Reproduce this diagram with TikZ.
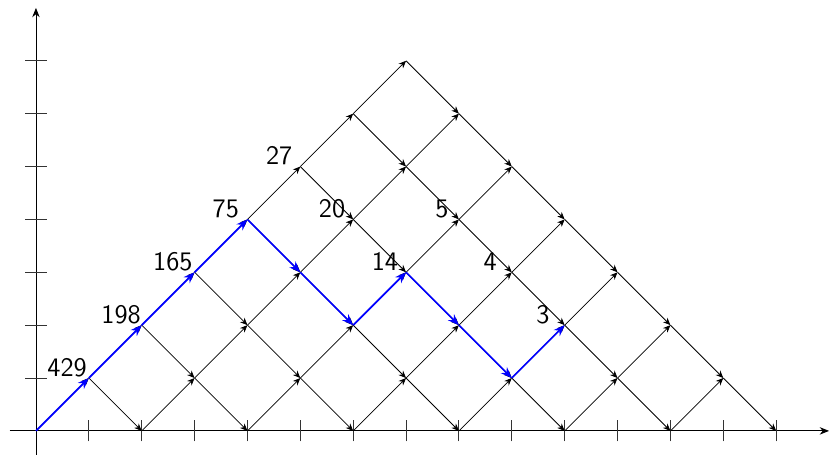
\documentclass[tikz,border=0pt]{standalone}
\usetikzlibrary{arrows.meta}

\begin{document}
\begin{tikzpicture}[
  line join=round,
  axis/.style={draw=black,line width=0.45pt,-{Stealth[length=5pt,width=4pt]}},
  tick/.style={draw=black!80,line width=0.45pt},
  lattice/.style={draw=black,line width=0.4pt,-{Stealth[length=4pt,width=3.4pt]}},
  pathedge/.style={draw=blue,line width=0.9pt,-{Stealth[length=6pt,width=4.6pt]}},
  numlabel/.style={font=\sffamily\Large,inner sep=0pt}
]
  \useasboundingbox (-0.68,-0.47) rectangle (15.0,8.15);

  % Lattice points of the triangle.
  \foreach \i in {0,...,14} {
    \foreach \j in {0,...,7} {
      \coordinate (p-\i-\j) at (\i,\j);
    }
  }

  % Axes with unit ticks.
  \coordinate (xstart) at (-0.5,0);
  \coordinate (xend) at (15,0);
  \coordinate (ystart) at (0,-0.45);
  \coordinate (yend) at (0,8);
  \draw[axis] (xstart) -- (xend);
  \draw[axis] (ystart) -- (yend);
  \foreach \i in {1,...,14} {
    \draw[tick] ([yshift=-0.2cm]p-\i-0) -- ([yshift=0.2cm]p-\i-0);
  }
  \foreach \j in {1,...,7} {
    \draw[tick] ([xshift=-0.2cm]p-0-\j) -- ([xshift=0.2cm]p-0-\j);
  }

  % Up steps, one diagonal for each even start on the axis.
  \foreach \c in {0,2,...,12} {
    \pgfmathtruncatemacro{\len}{(14-\c)/2-1}
    \foreach \s [evaluate=\s as \xa using int(\c+\s),
                 evaluate=\s as \xb using int(\c+\s+1),
                 evaluate=\s as \yb using int(\s+1)] in {0,...,\len} {
      \draw[lattice] (p-\xa-\s) -- (p-\xb-\yb);
    }
  }

  % Down steps, one diagonal for each point on the left edge.
  \foreach \m in {1,...,7} {
    \pgfmathtruncatemacro{\len}{\m-1}
    \foreach \s [evaluate=\s as \xa using int(\m+\s),
                 evaluate=\s as \ya using int(\m-\s),
                 evaluate=\s as \xb using int(\m+\s+1),
                 evaluate=\s as \yb using int(\m-\s-1)] in {0,...,\len} {
      \draw[lattice] (p-\xa-\ya) -- (p-\xb-\yb);
    }
  }

  % Highlighted path.
  \foreach \xa/\ya/\xb/\yb in {0/0/1/1,1/1/2/2,2/2/3/3,3/3/4/4,4/4/5/3,
                               5/3/6/2,6/2/7/3,7/3/8/2,8/2/9/1,9/1/10/2} {
    \draw[pathedge] (p-\xa-\ya) -- (p-\xb-\yb);
  }

  % Counts at the path's points.
  \foreach \v/\x/\y/\dx in {429/1/1/-0.41,198/2/2/-0.39,165/3/3/-0.41,
                            75/4/4/-0.41,27/5/5/-0.4,20/6/4/-0.4,
                            5/8/4/-0.32,14/7/3/-0.4,4/9/3/-0.41,3/10/2/-0.41} {
    \node[numlabel] (n-\x-\y) at ([xshift=\dx cm,yshift=0.2cm]p-\x-\y) {\v};
  }
\end{tikzpicture}
\end{document}
